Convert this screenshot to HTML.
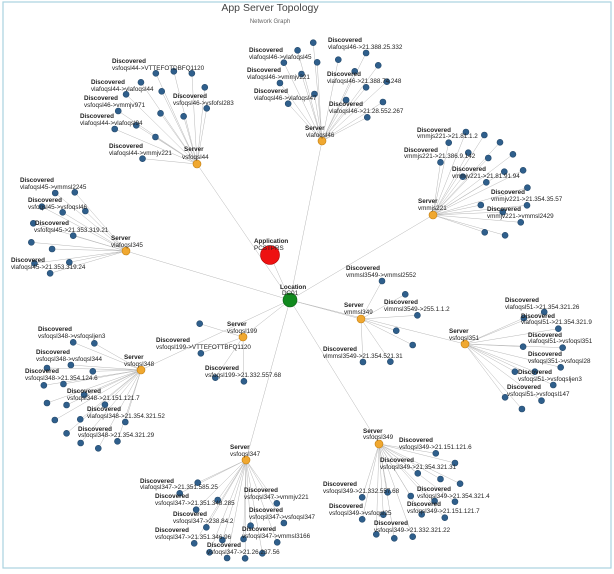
<!DOCTYPE html>
<html><head><meta charset="utf-8">
<style>
html,body{margin:0;padding:0;background:#fff;}
svg{display:block;}
text{font-family:"Liberation Sans",sans-serif;font-size:6.3px;fill:#222;}
.b{font-weight:bold;}
</style></head><body>
<svg id="g" width="614" height="574" viewBox="0 0 614 574" xmlns="http://www.w3.org/2000/svg">
<rect x="3" y="2" width="608" height="566" fill="#fff" stroke="#a9d3df" stroke-width="1.2"/>
<g id="edges" stroke="#b8b8b8" stroke-width="0.5" fill="none"></g>
<g id="dots"></g>
<text x="270" y="11" text-anchor="middle" style="font-size:10.5px;fill:#444">App  Server Topology</text>
<text x="270" y="23" text-anchor="middle" style="font-size:6px;fill:#666">Network Graph</text>

<g>
<text class="b" x="112" y="63">Discovered</text><text x="112" y="70">vsfoqsl44-&gt;VTTEFOTDBFQ1120</text>
<text class="b" x="91" y="84">Discovered</text><text x="91" y="91">vlafoqsl44-&gt;vlafoqsl44</text>
<text class="b" x="84" y="100">Discovered</text><text x="84" y="107">vsfoqsl46-&gt;vmmjv971</text>
<text class="b" x="173" y="98">Discovered</text><text x="173" y="105">vsfoqsl46-&gt;vsfofsl283</text>
<text class="b" x="80" y="118">Discovered</text><text x="80" y="125">vlafoqsl44-&gt;vlafoqsl94</text>
<text class="b" x="109" y="148">Discovered</text><text x="109" y="155">vlafoqsl44-&gt;vmmjv221</text>
<text class="b" x="184" y="151">Server</text><text x="182" y="159">vsfoqsl44</text>

<text class="b" x="249" y="52">Discovered</text><text x="249" y="59">vlafoqsl46-&gt;vlafoqsl45</text>
<text class="b" x="328" y="42">Discovered</text><text x="328" y="49">vlafoqsl46-&gt;21.388.25.332</text>
<text class="b" x="247" y="72">Discovered</text><text x="247" y="79">vlafoqsl46-&gt;vmmjv221</text>
<text class="b" x="327" y="76">Discovered</text><text x="327" y="83">vlafoqsl46-&gt;21.388.74.248</text>
<text class="b" x="254" y="93">Discovered</text><text x="254" y="100">vlafoqsl46-&gt;vlafoqsl47</text>
<text class="b" x="329" y="106">Discovered</text><text x="329" y="113">vlafoqsl46-&gt;21.28.552.267</text>
<text class="b" x="305" y="130">Server</text><text x="306" y="137">vlafoqsl46</text>

<text class="b" x="417" y="132">Discovered</text><text x="417" y="138">vmmjs221-&gt;21.81.1.2</text>
<text class="b" x="404" y="152">Discovered</text><text x="404" y="158">vmmjs221-&gt;21.386.9.142</text>
<text class="b" x="452" y="171">Discovered</text><text x="452" y="178">vmmjv221-&gt;21.81.91.94</text>
<text class="b" x="491" y="194">Discovered</text><text x="491" y="201">vmmjv221-&gt;21.354.35.57</text>
<text class="b" x="487" y="211">Discovered</text><text x="487" y="218">vmmjv221-&gt;vmmsl2429</text>
<text class="b" x="418" y="203">Server</text><text x="418" y="210">vmmjs221</text>

<text class="b" x="20" y="182">Discovered</text><text x="20" y="189">vlafoqsl45-&gt;vmmsl2245</text>
<text class="b" x="28" y="202">Discovered</text><text x="28" y="209">vsfoqsl45-&gt;vsfoqsl46</text>
<text class="b" x="35" y="225">Discovered</text><text x="34" y="232">vsfofqsl45-&gt;21.353.319.21</text>
<text class="b" x="11" y="262">Discovered</text><text x="11" y="269">vlafoqsl45-&gt;21.353.319.24</text>
<text class="b" x="111" y="240">Server</text><text x="111" y="247">vlafoqsl345</text>

<text class="b" x="254" y="243">Application</text><text x="254" y="250">PCSTPRS</text>
<text class="b" x="280" y="289">Location</text><text x="282" y="295">DC01</text>
<text class="b" x="346" y="270">Discovered</text><text x="346" y="277">vmmsl3549-&gt;vmmsl2552</text>

<text class="b" x="344" y="307">Server</text><text x="344" y="314">vmmsl349</text>
<text class="b" x="384" y="304">Discovered</text><text x="384" y="311">vlmmsl3549-&gt;255.1.1.2</text>
<text class="b" x="323" y="351">Discovered</text><text x="323" y="358">vlmmsl3549-&gt;21.354.521.31</text>

<text class="b" x="505" y="302">Discovered</text><text x="505" y="309">vlafoqsl51-&gt;21.354.321.26</text>
<text class="b" x="521" y="318">Discovered</text><text x="521" y="324">vlafoqsl51-&gt;21.354.321.9</text>
<text class="b" x="528" y="337">Discovered</text><text x="528" y="343">vlafoqsl51-&gt;vsfoqsl351</text>
<text class="b" x="528" y="356">Discovered</text><text x="528" y="363">vsfoqsl351-&gt;vsfoqsl28</text>
<text class="b" x="518" y="374">Discovered</text><text x="518" y="381">vsfoqsl51-&gt;vsfoqsljen3</text>
<text class="b" x="507" y="389">Discovered</text><text x="507" y="396">vsfoqsl51-&gt;vsfoqsl147</text>
<text class="b" x="449" y="333">Server</text><text x="449" y="340">vsfoqsl351</text>

<text class="b" x="227" y="326">Server</text><text x="227" y="333">vsfoqsl199</text>
<text class="b" x="156" y="342">Discovered</text><text x="156" y="349">vsfoqsl199-&gt;VTTEFOTTBFQ1120</text>
<text class="b" x="205" y="370">Discovered</text><text x="205" y="377">vsfoqsl199-&gt;21.332.557.68</text>

<text class="b" x="38" y="331">Discovered</text><text x="38" y="338">vsfoqsl348-&gt;vsfoqsljen3</text>
<text class="b" x="36" y="354">Discovered</text><text x="36" y="361">vsfoqsl348-&gt;vsfoqsl344</text>
<text class="b" x="25" y="373">Discovered</text><text x="25" y="380">vsfoqsl348-&gt;21.354.124.6</text>
<text class="b" x="124" y="359">Server</text><text x="124" y="366">vsfoqsl348</text>
<text class="b" x="67" y="393">Discovered</text><text x="67" y="400">vsfoqsl348-&gt;21.151.121.7</text>
<text class="b" x="87" y="411">Discovered</text><text x="87" y="418">vlafoqsl348-&gt;21.354.321.52</text>
<text class="b" x="78" y="431">Discovered</text><text x="78" y="437">vsfoqsl348-&gt;21.354.321.29</text>

<text class="b" x="230" y="449">Server</text><text x="230" y="456">vsfoqsl347</text>
<text class="b" x="140" y="483">Discovered</text><text x="140" y="489">vlafoqsl347-&gt;21.351.585.25</text>
<text class="b" x="244" y="492">Discovered</text><text x="244" y="499">vsfoqsl347-&gt;vmmjv221</text>
<text class="b" x="155" y="498">Discovered</text><text x="155" y="505">vsfoqsl347-&gt;21.351.348.285</text>
<text class="b" x="249" y="512">Discovered</text><text x="249" y="519">vsfoqsl347-&gt;vsfoqsl347</text>
<text class="b" x="173" y="516">Discovered</text><text x="173" y="523">vsfoqsl347-&gt;238.84.2</text>
<text class="b" x="155" y="532">Discovered</text><text x="155" y="539">vsfoqsl347-&gt;21.351.346.96</text>
<text class="b" x="242" y="531">Discovered</text><text x="242" y="538">vsfoqsl347-&gt;vmmsl3166</text>
<text class="b" x="207" y="547">Discovered</text><text x="207" y="554">vsfoqsl347-&gt;21.26.237.56</text>

<text class="b" x="363" y="433">Server</text><text x="363" y="439">vsfoqsl349</text>
<text class="b" x="399" y="442">Discovered</text><text x="399" y="449">vsfoqsl349-&gt;21.151.121.6</text>
<text class="b" x="380" y="462">Discovered</text><text x="380" y="469">vsfoqsl349-&gt;21.354.321.31</text>
<text class="b" x="323" y="486">Discovered</text><text x="323" y="493">vsfoqsl349-&gt;21.332.557.68</text>
<text class="b" x="417" y="491">Discovered</text><text x="417" y="498">vsfoqsl349-&gt;21.354.321.4</text>
<text class="b" x="329" y="508">Discovered</text><text x="329" y="515">vsfoqsl349-&gt;vsfoqsl25</text>
<text class="b" x="407" y="506">Discovered</text><text x="407" y="513">vsfoqsl349-&gt;21.151.121.7</text>
<text class="b" x="374" y="525">Discovered</text><text x="374" y="532">vsfoqsl349-&gt;21.332.321.22</text>
</g>
</svg>
<script>
(function(){
var NS="http://www.w3.org/2000/svg";
var E=document.getElementById("edges"),D=document.getElementById("dots");
function line(a,b){var l=document.createElementNS(NS,"line");l.setAttribute("x1",a[0]);l.setAttribute("y1",a[1]);l.setAttribute("x2",b[0]);l.setAttribute("y2",b[1]);E.appendChild(l);}
function dot(p,r,f,s){var c=document.createElementNS(NS,"circle");c.setAttribute("cx",p[0]);c.setAttribute("cy",p[1]);c.setAttribute("r",r);c.setAttribute("fill",f);c.setAttribute("stroke",s);c.setAttribute("stroke-width","0.6");D.appendChild(c);}
var sx=2.554;
function z1(a){return a.map(function(p){return [p[0]/sx,p[1]/3];});}
function z2(a){return a.map(function(p){return [p[0]/sx,p[1]/3+284];});}
var center=[290,300],app=[270,255];
var S=[
 {p:[197,164],L:z1([[398,220],[444,214],[490,220],[360,247],[413,274],[523,262],[322,283],[528,325],[302,333],[410,340],[469,349],[348,376],[293,387],[397,411],[364,476]])},
 {p:[322,141],L:z1([[800,128],[760,151],[935,159],[725,188],[810,187],[864,179],[966,196],[715,249],[770,222],[906,214],[935,262],[988,245],[803,282],[884,300],[736,311],[978,306],[938,352]])},
 {p:[433,215],L:z1([[1190,396],[1237,405],[1146,428],[1277,427],[1196,458],[1310,463],[1125,487],[1247,474],[1288,515],[1336,511],[1182,530],[1242,547],[1347,563],[1228,615],[1346,616],[1284,636],[1330,667],[1238,697],[1290,706]])},
 {p:[126,251],L:z1([[141,579],[191,577],[107,620],[160,637],[218,633],[85,670],[187,707],[80,727],[133,747],[177,787],[88,790],[128,820]])},
 {p:[361,319],L:z2([[1035,31],[1066,94],[1012,140],[1054,183],[927,234],[997,233]]).concat([[382,281]])},
 {p:[465,344],L:z2([[1390,84],[1338,102],[1426,134],[1336,188],[1437,191],[1315,263],[1432,250],[1366,263],[1413,303],[1290,340],[1383,350],[1333,375]])},
 {p:[243,337],L:z2([[510,119],[513,208],[550,281],[623,292]])},
 {p:[141,370],L:z2([[187,175],[241,178],[181,243],[120,252],[237,262],[112,304],[162,300],[215,332],[120,357],[170,363],[268,362],[140,408],[205,406],[320,414],[170,448],[206,477],[251,493],[300,472]])},
 {p:[246,460],L:z2([[505,596],[459,628],[556,648],[501,677],[707,658],[725,717],[527,730],[496,778],[568,768],[622,765],[708,775],[535,805],[580,822],[626,823],[670,808],[640,725]])},
 {p:[379,444],L:z2([[1113,508],[1162,537],[1067,568],[1125,585],[1175,599],[1049,636],[925,640],[990,625],[1162,653],[1110,651],[1077,691],[1136,701],[925,706],[979,692],[961,751],[1007,763],[1054,758]])}
];
line(center,app);
S.forEach(function(s){line(center,s.p);s.L.forEach(function(q){line(s.p,q);});});
S.forEach(function(s){s.L.forEach(function(q){dot(q,3,"#2f5f8c","#24496b");});});
S.forEach(function(s){dot(s.p,4,"#f0a830","#c07d10");});
dot(app,9.5,"#ee1111","#a00");
dot(center,7,"#118a1e","#0a5a12");
})();
</script>
</body></html>
